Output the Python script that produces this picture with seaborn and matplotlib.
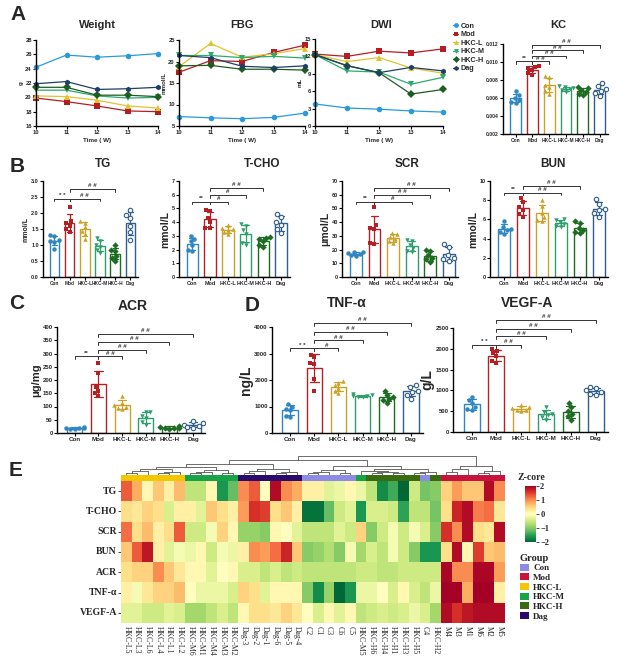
import numpy as np
import pandas as pd
import matplotlib
matplotlib.use("Agg")
import matplotlib.pyplot as plt
import seaborn as sns
from matplotlib.lines import Line2D
from matplotlib.patches import Patch
from matplotlib.colors import ListedColormap

sns.set_theme(style="ticks")
plt.rcParams['font.family'] = ['Liberation Sans', 'DejaVu Sans']
plt.rcParams['font.weight'] = 'bold'
plt.rcParams['axes.labelweight'] = 'bold'

# ---------------- data ----------------
groups = ["Con", "Mod", "HKC-L", "HKC-M", "HKC-H", "Dag"]
weeks = [10, 11, 12, 13, 14]

weight = {"Con": [24.2, 25.9, 25.6, 25.8, 26.1], "Mod": [19.9, 19.4, 18.8, 18.1, 18.0],
          "HKC-L": [20.2, 20.1, 19.6, 18.8, 18.5], "HKC-M": [21.0, 21.0, 20.2, 19.9, 20.0],
          "HKC-H": [21.4, 21.4, 20.3, 20.3, 20.1], "Dag": [21.9, 22.2, 21.1, 21.2, 21.4]}
fbg = {"Con": [7.2, 6.9, 6.7, 7.0, 8.0], "Mod": [17.5, 20.2, 20.0, 22.1, 23.8],
       "HKC-L": [18.8, 24.2, 21.0, 21.8, 23.0], "HKC-M": [21.4, 21.4, 20.9, 21.2, 20.8],
       "HKC-H": [19.0, 19.1, 18.2, 18.2, 18.0], "Dag": [21.4, 20.9, 18.9, 18.6, 19.0]}
dwi = {"Con": [3.8, 3.1, 2.9, 2.6, 2.4], "Mod": [12.4, 12.0, 12.9, 12.6, 13.3],
       "HKC-L": [12.3, 11.1, 11.8, 10.0, 9.1], "HKC-M": [12.3, 9.5, 9.3, 7.2, 8.4],
       "HKC-H": [12.3, 10.4, 9.2, 5.5, 6.3], "Dag": [12.3, 10.4, 9.2, 10.1, 9.5]}

kc = {"Con": [0.0068, 0.0063, 0.0060, 0.0058, 0.0056, 0.0055],
      "Mod": [0.0096, 0.0095, 0.0093, 0.0091, 0.0088, 0.0086],
      "HKC-L": [0.0085, 0.0083, 0.0075, 0.0072, 0.0068, 0.0065],
      "HKC-M": [0.0073, 0.0072, 0.0071, 0.0070, 0.0069, 0.0067],
      "HKC-H": [0.0072, 0.0071, 0.0069, 0.0067, 0.0065, 0.0063],
      "Dag": [0.0077, 0.0073, 0.0070, 0.0068, 0.0066, 0.0062]}
tg = {"Con": [1.32, 1.27, 1.15, 1.12, 1.10, 0.88], "Mod": [2.2, 1.75, 1.7, 1.6, 1.5, 1.4],
      "HKC-L": [1.75, 1.70, 1.55, 1.45, 1.35, 1.18], "HKC-M": [1.22, 1.12, 1.0, 0.95, 0.85, 0.75],
      "HKC-H": [1.0, 0.85, 0.80, 0.65, 0.60, 0.50], "Dag": [2.1, 1.95, 1.85, 1.6, 1.4, 1.15]}
tcho = {"Con": [3.0, 2.8, 2.6, 2.3, 2.0, 1.9], "Mod": [4.9, 4.8, 4.3, 4.0, 3.6, 3.6],
        "HKC-L": [3.8, 3.6, 3.5, 3.45, 3.3, 3.1], "HKC-M": [3.85, 3.7, 3.4, 3.15, 2.5, 2.3],
        "HKC-H": [2.9, 2.85, 2.75, 2.6, 2.35, 2.2], "Dag": [4.6, 4.35, 4.0, 3.8, 3.5, 3.2]}
scr = {"Con": [18.5, 18, 17.5, 17, 16, 15.5], "Mod": [51, 38, 36, 35, 25, 24],
       "HKC-L": [32, 31, 29, 28, 26, 25], "HKC-M": [27, 26, 23, 21, 19, 18],
       "HKC-H": [20, 19, 16, 14, 13, 11], "Dag": [24, 22, 16, 14, 13, 12]}
bun = {"Con": [5.8, 5.2, 5.0, 4.9, 4.7, 4.5], "Mod": [8.2, 7.8, 7.3, 7.0, 6.6, 6.3],
       "HKC-L": [8.0, 7.4, 6.7, 6.2, 5.9, 5.8], "HKC-M": [6.0, 5.9, 5.7, 5.5, 5.3, 5.2],
       "HKC-H": [5.8, 5.6, 5.1, 4.9, 4.7, 4.6], "Dag": [8.1, 7.6, 7.1, 7.0, 6.7, 6.3]}
acr = {"Con": [22, 20, 19, 18, 16, 14], "Mod": [265, 225, 175, 160, 150, 140],
       "HKC-L": [140, 115, 105, 100, 95, 90], "HKC-M": [80, 78, 65, 55, 40, 30],
       "HKC-H": [28, 22, 20, 19, 18, 16], "Dag": [45, 38, 32, 28, 22, 20]}
tnf = {"Con": [1100, 1000, 900, 850, 650, 620], "Mod": [2950, 2850, 2650, 2600, 2050, 1600],
       "HKC-L": [1950, 1900, 1800, 1700, 1600, 1500], "HKC-M": [1480, 1430, 1400, 1380, 1350, 1340],
       "HKC-H": [1600, 1450, 1350, 1300, 1250, 1150], "Dag": [1800, 1750, 1600, 1550, 1450, 1300]}
vegf = {"Con": [850, 780, 700, 600, 560, 520], "Mod": [2000, 1950, 1900, 1820, 1700, 1650],
        "HKC-L": [640, 600, 570, 540, 520, 500], "HKC-M": [600, 470, 430, 400, 350, 300],
        "HKC-H": [700, 600, 500, 430, 380, 300], "Dag": [1080, 1060, 1000, 950, 920, 880]}

# significance annotations: (group i, group j, label, level)
sig_kc = [(0, 1, "**", 0.0101), (1, 2, "# #", 0.0101), (1, 3, "# #", 0.0107), (1, 4, "# #", 0.0113), (1, 5, "# #", 0.0119)]
sig_tg = [(0, 1, "* *", 2.45), (1, 3, "# #", 2.45), (1, 4, "# #", 2.75)]
sig_tcho = [(0, 1, "**", 5.5), (1, 2, "#", 5.5), (1, 3, "#", 6.0), (1, 4, "# #", 6.5)]
sig_scr = [(0, 1, "**", 55), (1, 3, "#", 55), (1, 4, "# #", 60), (1, 5, "# #", 65)]
sig_bun = [(0, 1, "**", 8.8), (1, 3, "# #", 8.8), (1, 4, "# #", 9.5)]
sig_acr = [(0, 1, "**", 290), (1, 2, "# #", 290), (1, 3, "# #", 315), (1, 4, "# #", 345), (1, 5, "# #", 375)]
sig_tnf = [(0, 1, "* *", 3200), (1, 2, "#", 3200), (1, 3, "# #", 3500), (1, 4, "# #", 3810), (1, 5, "# #", 4150)]
sig_vegf = [(0, 1, "* *", 2090), (1, 2, "# #", 2090), (1, 3, "# #", 2300), (1, 4, "# #", 2475), (1, 5, "# #", 2690)]

# heatmap
hm_rows = ["TG", "T-CHO", "SCR", "BUN", "ACR", "TNF-α", "VEGF-A"]
hm_cols = ["HKC-L5", "HKC-L3", "HKC-L6", "HKC-L4", "HKC-L1", "HKC-L2", "HKC-M6", "HKC-M1", "HKC-M4",
           "HKC-M3", "HKC-M2", "Dag-3", "Dag-2", "Dag-1", "Dag-6", "Dag-5", "Dag-4", "C2", "C1", "C3",
           "C6", "C5", "HKC-M5", "HKC-H6", "HKC-H4", "HKC-H1", "HKC-H3", "HKC-H5", "C4", "HKC-H2",
           "M4", "M3", "M1", "M6", "M2", "M5"]
z_tg = [1.3, 0.8, 0.1, 0.6, 0.2, 0.7, -0.6, -0.6, 0.1, -1.6, -1.2, 1.0,
        1.3, 0.0, 1.9, 1.0, 0.8, 0.2, 0.2, -0.3, -0.2, 0.1, -0.2, -0.6,
        -1.7, -1.4, -2.0, -0.5, -1.1, -1.0, 0.5, 0.9, 0.6, 0.6, 1.9, 1.0]
z_tcho = [0.4, 0.3, 0.5, 0.4, -0.4, 0.2, 0.2, -0.3, 0.6, 0.4, 0.2, 0.9,
          1.6, 1.5, 0.4, 0.6, 0.2, -1.9, -1.9, -1.2, -0.5, -0.3, -1.6, -0.4,
          -0.4, -0.5, -1.5, -0.6, -0.6, -1.1, 0.4, 1.7, 1.9, 1.1, 1.2, 0.3]
z_scr = [1.2, 0.4, 0.7, 0.2, 0.4, 1.3, -0.5, -0.5, -0.1, 0.5, 0.1, -0.9,
         -0.9, -1.0, 0.1, 0.0, -0.3, -0.6, -0.6, -0.6, -0.3, -0.5, 0.5, -1.0,
         -0.5, -0.1, -0.5, -0.1, -0.4, -1.0, 1.6, 1.0, 1.9, 0.4, 0.3, 1.9]
z_bun = [0.6, 1.3, 1.8, 0.2, -0.3, -0.1, -0.2, 0.1, -0.5, -0.1, -0.2, 0.2,
         1.0, 0.9, 1.2, 1.7, 0.6, -1.0, -0.9, -0.7, -1.0, -0.1, -0.8, -0.4,
         -0.6, -0.1, -0.5, -1.0, -1.6, -1.6, 0.4, 1.9, 0.1, 1.5, 0.6, 0.7]
z_acr = [0.4, 0.5, 0.5, 1.0, 0.6, 0.3, 0.1, 0.1, -0.3, 0.0, 0.1, -0.4,
         -0.4, -0.6, -0.4, -0.6, -0.5, -0.6, -0.6, -0.6, -0.6, -0.6, -0.5, -0.5,
         -0.6, -0.6, -0.5, -0.5, -0.5, -0.5, 1.95, 1.0, 1.0, 1.95, 1.95, 0.9]
z_tnf = [0.2, -0.1, 0.3, 0.5, 0.5, 0.7, 0.0, -0.2, -0.2, -0.2, -0.4, 0.5,
         0.4, -0.3, 0.1, 0.1, 0.1, -1.0, -1.7, -0.9, -2.0, -1.6, -0.2, -0.2,
         0.0, -0.4, 0.1, -0.4, -0.6, -0.2, 2.0, 2.0, 0.8, 2.0, 2.0, 0.2]
z_vegf = [-0.3, -0.3, -0.5, -0.5, -0.3, -0.4, -0.8, -0.8, -0.6, -0.4, -0.6, 0.1,
          0.4, 0.4, 0.3, 0.5, 0.3, 0.0, -0.4, 0.1, -0.3, 0.1, -0.6, -0.5,
          -0.4, -0.5, -0.4, -0.2, -0.4, -0.8, 1.9, 1.6, 1.8, 1.9, 1.9, 1.9]

# dendrogram topology (leaf indices, merge heights)
tree_L = (((0, 1, .12), 2, .2), ((3, 4, .1), 5, .18), .3)
tree_M = (((6, 7, .1), 8, .16), (9, 10, .12), .25)
tree_D = (((11, 12, .12), 13, .2), ((14, 15, .1), 16, .16), .3)
tree_C = (((17, 18, .1), 19, .15), (20, 21, .12), .26)
tree_H = ((22, ((23, 24, .1), (25, 26, .12), .16), .24), ((27, 28, .1), 29, .18), .32)
tree_Mod = (((30, 31, .14), 32, .3), ((33, 34, .12), 35, .24), .5)
tree_root = ((((tree_L, tree_M, .42), tree_D, .58), (tree_C, tree_H, .48), .8), tree_Mod, 1.0)

# ---------------- styles ----------------
line_pal = {"Con": "#2A9BD8", "Mod": "#B41E22", "HKC-L": "#E2C22E", "HKC-M": "#2DAA6E",
            "HKC-H": "#1F5C1F", "Dag": "#1E3F66"}
line_mk = {"Con": "o", "Mod": "s", "HKC-L": "^", "HKC-M": "v", "HKC-H": "D", "Dag": "h"}
bar_pal = {"Con": "#2F86C2", "Mod": "#B52025", "HKC-L": "#C9A227", "HKC-M": "#2E9E6E",
           "HKC-H": "#1E6B22", "Dag": "#2F5D8C"}
bar_mk = {"Con": "o", "Mod": "s", "HKC-L": "^", "HKC-M": "v", "HKC-H": "D", "Dag": "o"}
grp_col = {"Con": "#8C8CE6", "Mod": "#C8133E", "HKC-L": "#F2C700", "HKC-M": "#17A348",
           "HKC-H": "#3A6B10", "Dag": "#2B0A6E"}

W, H = 633, 666
fig = plt.figure(figsize=(W / 100, H / 100), dpi=100)


def px_axes(x0, y0, x1, y1):
    return fig.add_axes([x0 / W, 1 - y1 / H, (x1 - x0) / W, (y1 - y0) / H])


def ftext(x, y, s, size, **kw):
    fig.text(x / W, 1 - y / H, s, fontsize=size, fontweight='bold', ha=kw.pop('ha', 'center'),
             va=kw.pop('va', 'center'), **kw)


def style_axes(ax, fs=4.5, xfs=None):
    sns.despine(ax=ax)
    for s in ["left", "bottom"]:
        ax.spines[s].set_linewidth(1.0)
        ax.spines[s].set_color("black")
    ax.tick_params(axis='both', length=2, width=0.8, pad=1, labelsize=fs, color="black")
    if xfs:
        ax.tick_params(axis='x', labelsize=xfs)
    for lab in ax.get_xticklabels() + ax.get_yticklabels():
        lab.set_fontweight('bold')


def line_panel(ax, vals, ylim, yticks, ylabel):
    rows = [{"week": w, "value": v, "group": g} for g in groups for w, v in zip(weeks, vals[g])]
    df = pd.DataFrame(rows)
    sns.lineplot(data=df, x="week", y="value", hue="group", style="group", hue_order=groups,
                 style_order=groups, palette=line_pal, markers=line_mk, dashes=False,
                 markersize=4, markeredgewidth=0, linewidth=0.9, legend=False, ax=ax)
    for ln in ax.lines:
        ln.set_clip_on(False)
    ax.set_xlim(10, 14)
    ax.set_xticks(weeks)
    ax.set_ylim(*ylim)
    ax.set_yticks(yticks)
    ax.set_xlabel("Time ( W)", fontsize=4.5, labelpad=2)
    ax.set_ylabel(ylabel, fontsize=4.5, labelpad=1)
    style_axes(ax, fs=4.2)


def bar_panel(ax, data, ylim, yticks, ylabel, ylfs, sigs, fmt=None, xfs=4.5, yfs=4.5):
    for g in groups:
        d = pd.DataFrame({"group": g, "value": data[g]})
        sns.barplot(data=d, x="group", y="value", order=groups, color=bar_pal[g], fill=False,
                    errorbar="sd", capsize=0.35, width=0.64, linewidth=1.0,
                    err_kws={"color": bar_pal[g], "linewidth": 0.9}, ax=ax)
    for g in groups:
        d = pd.DataFrame({"group": g, "value": data[g]})
        if g == "Dag":
            sns.swarmplot(data=d, x="group", y="value", order=groups, color="white",
                          edgecolor=bar_pal[g], linewidth=0.8, marker="o", size=3.2, ax=ax)
        else:
            sns.swarmplot(data=d, x="group", y="value", order=groups, color=bar_pal[g],
                          linewidth=0, marker=bar_mk[g], size=3.2, ax=ax)
    ax.set_xlim(-0.75, 5.5)
    ax.set_ylim(*ylim)
    ax.set_yticks(yticks)
    if fmt:
        ax.set_yticklabels([fmt.format(t) for t in yticks])
    ax.set_xlabel("")
    ax.set_ylabel(ylabel, fontsize=ylfs, labelpad=1)
    style_axes(ax, fs=yfs, xfs=xfs)
    h = 0.03 * (ylim[1] - ylim[0])
    for i, j, txt, lev in sigs:
        ax.plot([i, i, j, j], [lev - h, lev, lev, lev - h], color="#333333", lw=0.7, clip_on=False)
        ax.text((i + j) / 2, lev + 0.2 * h, txt, ha='center', va='bottom', fontsize=4.5,
                color="#333333", clip_on=False)


# ---------------- row A ----------------
ax = px_axes(36, 40, 158, 126)
line_panel(ax, weight, (16, 28), list(range(16, 29, 2)), "g")
ax = px_axes(179, 40, 305, 126)
line_panel(ax, fbg, (5, 25), [5, 10, 15, 20, 25], "mmol/L")
ax = px_axes(315, 39, 443, 126)
line_panel(ax, dwi, (0, 15), [0, 3, 6, 9, 12, 15], "mL")

handles = [Line2D([], [], color=line_pal[g], marker=line_mk[g], markersize=3.5, lw=0.9,
                  markeredgewidth=0) for g in groups]
fig.legend(handles, groups, loc='upper left', bbox_to_anchor=(449 / W, 1 - 19 / H), frameon=False,
           handlelength=0.8, labelspacing=0.2, handletextpad=0.35, borderpad=0,
           prop={'weight': 'bold', 'size': 5.2})

ax = px_axes(503, 44, 608, 134)
bar_panel(ax, kc, (0.002, 0.012), [0.002, 0.004, 0.006, 0.008, 0.010, 0.012], "", 5, sig_kc,
          fmt="{:.3f}", xfs=3.5, yfs=3.6)

for x, y, s in [(97, 25, "Weight"), (242, 25, "FBG"), (381, 25, "DWI"), (558, 25, "KC")]:
    ftext(x, y, s, 8)

# ---------------- row B ----------------
ax = px_axes(43, 181, 138, 277)
bar_panel(ax, tg, (0, 3.0), [0, 0.5, 1.0, 1.5, 2.0, 2.5, 3.0], "mmol/L", 5, sig_tg, fmt="{:.1f}",
          xfs=3.4, yfs=4)
ax = px_axes(179, 181, 290, 277)
bar_panel(ax, tcho, (0, 7), list(range(0, 8)), "mmol/L", 7.5, sig_tcho, xfs=3.9, yfs=4)
ax = px_axes(342, 181, 458, 277)
bar_panel(ax, scr, (0, 70), list(range(0, 71, 10)), "μmol/L", 7.5, sig_scr, xfs=3.9, yfs=4)
ax = px_axes(490, 181, 608, 277)
bar_panel(ax, bun, (0, 10), [0, 2, 4, 6, 8, 10], "mmol/L", 7.5, sig_bun, xfs=3.9, yfs=4)
for x, y, s in [(103, 164, "TG"), (262, 164, "T-CHO"), (407, 164, "SCR"), (553, 164, "BUN")]:
    ftext(x, y, s, 8.5)

# ---------------- rows C / D ----------------
ax = px_axes(57, 327, 205, 433)
bar_panel(ax, acr, (0, 400), list(range(0, 401, 50)), "μg/mg", 8, sig_acr, xfs=4.5, yfs=4.3)
ax = px_axes(272, 327, 423, 433)
bar_panel(ax, tnf, (0, 4000), [0, 1000, 2000, 3000, 4000], "ng/L", 10, sig_tnf, xfs=4.5, yfs=4.3)
ax = px_axes(453, 328, 608, 432)
bar_panel(ax, vegf, (0, 2500), [0, 500, 1000, 1500, 2000, 2500], "g/L", 10, sig_vegf, xfs=4.5, yfs=4.3)
for x, y, s in [(133, 306, "ACR"), (347, 303, "TNF-α"), (527, 303, "VEGF-A")]:
    ftext(x, y, s, 10)

# ---------------- row E: heatmap ----------------
zmat = pd.DataFrame([z_tg, z_tcho, z_scr, z_bun, z_acr, z_tnf, z_vegf], index=hm_rows, columns=hm_cols)


def col_group(name):
    if name.startswith("HKC-L"):
        return "HKC-L"
    if name.startswith("HKC-M"):
        return "HKC-M"
    if name.startswith("HKC-H"):
        return "HKC-H"
    if name.startswith("Dag"):
        return "Dag"
    if name.startswith("C"):
        return "Con"
    return "Mod"


codes = pd.DataFrame([[groups.index(col_group(c)) for c in hm_cols]])

ax_d = px_axes(121, 456, 505, 475)
ax_g = px_axes(121, 475, 505, 481)
ax_h = px_axes(121, 481, 505, 623)
cax = px_axes(525, 486, 536, 542)


def draw_tree(ax, node):
    if isinstance(node, int):
        return node + 0.5, 0.0
    a, b, hgt = node
    xa, ha = draw_tree(ax, a)
    xb, hb = draw_tree(ax, b)
    ax.plot([xa, xa, xb, xb], [ha, hgt, hgt, hb], color="#555555", lw=0.6)
    return (xa + xb) / 2, hgt


draw_tree(ax_d, tree_root)
ax_d.set_xlim(0, len(hm_cols))
ax_d.set_ylim(0, 1.02)
ax_d.axis("off")

sns.heatmap(codes, cmap=ListedColormap([grp_col[g] for g in groups]), vmin=-0.5, vmax=5.5,
            cbar=False, xticklabels=False, yticklabels=False, ax=ax_g)

sns.heatmap(zmat, cmap="RdYlGn_r", vmin=-2, vmax=2, cbar_ax=cax,
            cbar_kws={"ticks": [-2, -1, 0, 1, 2]}, ax=ax_h)
ax_h.set_xticks(np.arange(len(hm_cols)) + 0.5)
ax_h.set_xticklabels(hm_cols, rotation=270, fontsize=5.6, family=['Liberation Serif'], fontweight='normal')
ax_h.set_yticks(np.arange(len(hm_rows)) + 0.5)
ax_h.set_yticklabels(hm_rows, rotation=0, fontsize=7, family=['Liberation Serif', 'DejaVu Serif'],
                     fontweight='bold')
ax_h.tick_params(axis='x', length=0, pad=2)
ax_h.tick_params(axis='y', length=2, width=0.6, pad=1)
ax_h.set_xlabel("")
ax_h.set_ylabel("")

cax.tick_params(length=2, width=0.6, pad=1, labelsize=6)
for lab in cax.get_yticklabels():
    lab.set_family('Liberation Serif')
    lab.set_fontweight('bold')
ftext(518, 477, "Z-core", 7, ha='left', family='Liberation Serif')

patches = [Patch(facecolor=grp_col[g], edgecolor='none') for g in groups]
leg = fig.legend(patches, groups, loc='upper left', bbox_to_anchor=(515 / W, 1 - 549 / H),
                 frameon=False, title="Group", handlelength=1.0, handleheight=0.8,
                 labelspacing=0.12, handletextpad=0.5, borderpad=0,
                 prop={'family': 'Liberation Serif', 'weight': 'bold', 'size': 6.5},
                 title_fontproperties={'family': 'Liberation Serif', 'weight': 'bold', 'size': 7.5})
leg._legend_box.align = "left"

# panel letters
for x, y, s in [(10, 15, "A"), (10, 166, "B"), (9, 304, "C"), (245, 305, "D"), (9, 470, "E")]:
    ftext(x, y, s, 15, ha='left')

fig.savefig("out.png", dpi=100)
